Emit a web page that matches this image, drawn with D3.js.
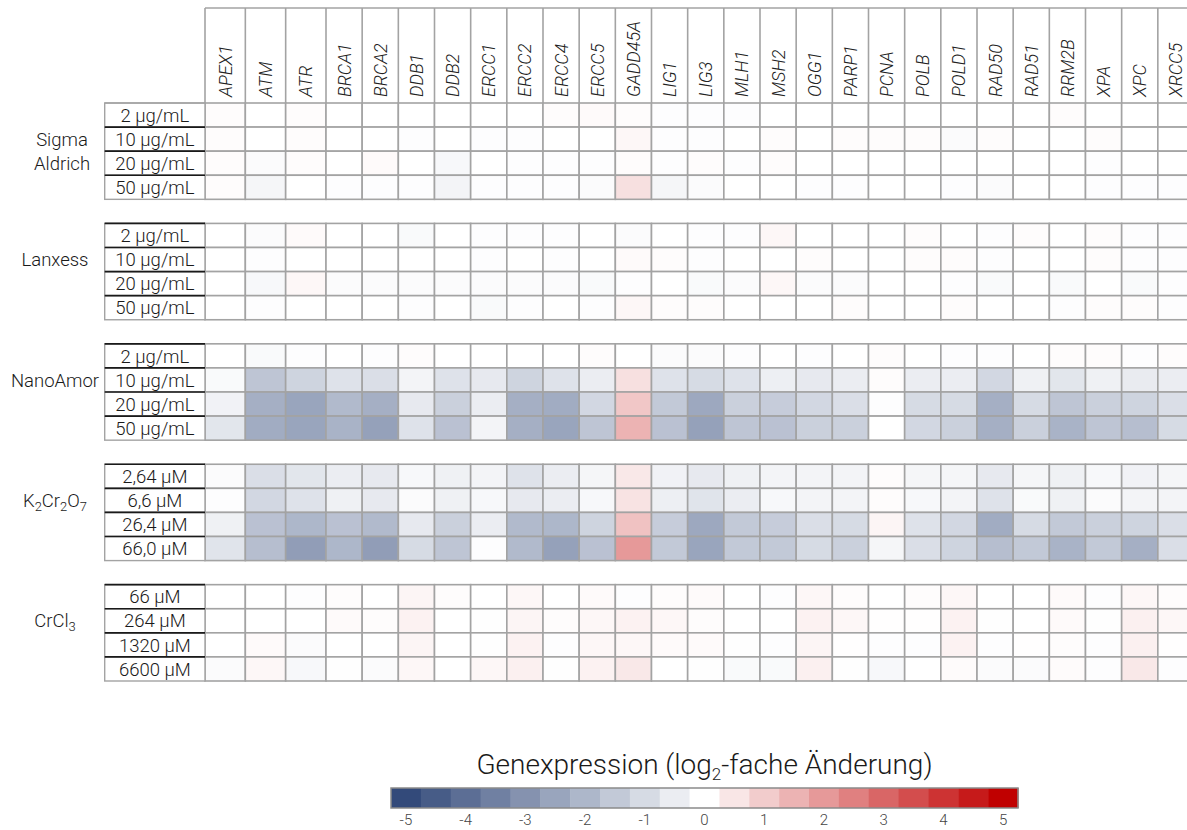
<!DOCTYPE html>
<html>
<head>
<meta charset="utf-8">
<script src="https://cdn.jsdelivr.net/npm/d3@7"></script>
<style>
  html, body { margin: 0; padding: 0; background: #fff; }
  svg { display: block; font-family: Roboto, "Noto Sans", sans-serif; font-weight: 300; }
</style>
</head>
<body>
<svg id="chart" width="1187" height="830"></svg>
<script>
// Genes on the column axis
const genes = ["APEX1","ATM","ATR","BRCA1","BRCA2","DDB1","DDB2","ERCC1","ERCC2","ERCC4","ERCC5",
  "GADD45A","LIG1","LIG3","MLH1","MSH2","OGG1","PARP1","PCNA","POLB","POLD1","RAD50","RAD51",
  "RRM2B","XPA","XPC","XRCC5"];

// Treatments (row groups) and their concentrations
const groupNames = ["Sigma Aldrich", "Lanxess", "NanoAmor", "K2Cr2O7", "CrCl3"];
const sigmaDoses = ["2 µg/mL", "10 µg/mL", "20 µg/mL", "50 µg/mL"];
const lanxessDoses = ["2 µg/mL", "10 µg/mL", "20 µg/mL", "50 µg/mL"];
const nanoamorDoses = ["2 µg/mL", "10 µg/mL", "20 µg/mL", "50 µg/mL"];
const dichromateDoses = ["2,64 µM", "6,6 µM", "26,4 µM", "66,0 µM"];
const chlorideDoses = ["66 µM", "264 µM", "1320 µM", "6600 µM"];

// log2 fold change, one row per concentration, columns in gene order
const sigmaValues = [
  [0.05,0,0.05,0,0,0,0,0,0,0.05,0.1,0.05,-0.05,-0.05,-0.05,0,0,0,0,0,0,0,0,0.05,0,0,0],
  [0.05,0,0.05,0,0,-0.05,0,-0.05,-0.05,0,0,0.15,-0.05,-0.05,0,0.05,0,0.05,0.05,0.05,-0.1,0.05,0,0,0.05,0,0],
  [0.05,-0.1,0.05,0,0.1,0,-0.2,0,-0.05,-0.05,-0.05,0.05,-0.05,0.05,-0.05,0.05,0,0,0,0,0,0,0,0,-0.05,0,0],
  [0.05,-0.25,0,-0.05,-0.05,-0.05,-0.3,-0.05,-0.05,-0.05,-0.1,0.6,-0.25,-0.1,0,0,-0.05,-0.05,0,0,-0.05,-0.1,0,0,-0.05,-0.05,-0.05]
];
const lanxessValues = [
  [0,-0.1,0.1,0,0,-0.15,0,-0.05,-0.05,-0.05,0,-0.1,0,-0.05,-0.05,0.15,0,0,0,0.05,0,-0.05,0.05,0,0.05,-0.05,-0.05],
  [0,-0.05,0,0,0,0,0,-0.05,0,-0.05,0,0.1,0.05,-0.05,0,0,0.05,0,0,0.05,0.05,-0.05,0,0,0.05,-0.05,-0.05],
  [0,-0.2,0.15,-0.1,-0.1,-0.1,-0.1,-0.1,-0.1,-0.1,-0.15,-0.05,0,-0.15,-0.1,0.15,-0.1,-0.1,0,0,-0.05,-0.15,0,-0.15,0,-0.15,-0.05],
  [0,-0.05,0,0,0,-0.05,0,-0.15,-0.05,0,-0.05,0.15,0.05,0.05,0,0,0,0.05,0,0,0.05,0,0,-0.05,0.05,0.05,-0.05]
];
const nanoamorValues = [
  [0,-0.15,-0.05,0,-0.05,0.05,0,0,0,0,0.05,0,-0.1,-0.1,-0.05,0,-0.05,0,0.05,0,-0.05,-0.05,0,0.05,0.05,-0.05,0.05],
  [-0.15,-1.6,-1.2,-0.8,-0.9,-0.3,-0.8,-0.6,-1.2,-0.8,-0.5,0.6,-0.8,-1.0,-0.8,-0.45,-0.6,-0.5,0.05,-0.5,-0.5,-1.1,-0.4,-0.7,-0.4,-0.55,-0.5],
  [-0.35,-2.2,-2.5,-1.9,-2.2,-0.6,-1.3,-0.5,-2.2,-2.3,-1.1,1.1,-1.5,-2.4,-1.3,-1.4,-1.1,-0.9,-0.05,-1.0,-1.0,-2.2,-1.0,-1.6,-1.3,-1.2,-0.9],
  [-0.7,-2.3,-2.5,-2.1,-2.6,-0.8,-1.7,-0.3,-2.2,-2.5,-1.6,1.5,-1.7,-2.6,-1.6,-1.7,-1.3,-1.3,0,-1.1,-1.3,-2.2,-1.3,-2.1,-1.6,-1.8,-1.0]
];
const dichromateValues = [
  [-0.1,-0.9,-0.7,-0.5,-0.6,-0.2,-0.4,-0.3,-0.8,-0.5,-0.25,0.45,-0.35,-0.6,-0.4,-0.3,-0.3,-0.3,0.05,-0.25,-0.25,-0.6,-0.25,-0.4,-0.2,-0.35,-0.25],
  [-0.05,-1.1,-0.8,-0.4,-0.6,-0.1,-0.4,-0.2,-0.6,-0.5,-0.2,0.55,-0.45,-0.75,-0.5,-0.2,-0.3,-0.3,0.05,-0.2,-0.3,-0.8,-0.15,-0.4,-0.1,-0.3,-0.3],
  [-0.4,-1.7,-2.0,-1.7,-1.9,-0.6,-1.3,-0.5,-1.9,-2.0,-1.2,1.2,-1.4,-2.4,-1.5,-1.4,-0.9,-1.0,0.2,-0.8,-1.1,-2.3,-1.0,-1.5,-1.3,-1.2,-0.9],
  [-0.75,-1.8,-2.7,-2.0,-2.7,-1.0,-1.6,-0.05,-1.9,-2.6,-1.7,2.0,-1.5,-2.5,-1.5,-1.5,-1.0,-1.3,-0.25,-0.9,-1.2,-1.8,-1.5,-2.1,-1.5,-2.2,-0.9]
];
const chlorideValues = [
  [0,0,-0.05,0.05,0,0.2,0.05,0,0.15,0,0.1,-0.05,0.05,0.1,0,-0.05,0.15,0.05,0,0.05,0.15,0,0,0.1,-0.05,0.15,0.05],
  [0,0,0,0.1,0.05,0.25,0,-0.02,0.2,0.05,0.15,0.25,0.15,0.05,0,0,0.25,0.15,0.02,0.02,0.25,-0.02,0,0.1,-0.02,0.3,0.15],
  [0,0.1,-0.1,0,0,0.2,0,-0.02,0.25,-0.05,0.15,0.15,0.1,0.1,-0.02,-0.05,0.2,0.02,-0.05,-0.05,0.25,-0.05,0.02,0.05,-0.05,0.3,0.02],
  [-0.1,0.15,-0.2,-0.02,-0.1,0.15,0,0.15,0.3,-0.02,0.25,0.45,0,-0.02,-0.15,-0.15,0.3,-0.02,-0.2,0,0.08,-0.1,-0.1,0.08,-0.05,0.45,-0.05]
];

// Colour bar ticks
const legendTicks = [-5,-4,-3,-2,-1,0,1,2,3,4,5];

const groups = [
  { name: groupNames[0], doses: sigmaDoses, values: sigmaValues },
  { name: groupNames[1], doses: lanxessDoses, values: lanxessValues },
  { name: groupNames[2], doses: nanoamorDoses, values: nanoamorValues },
  { name: groupNames[3], doses: dichromateDoses, values: dichromateValues },
  { name: groupNames[4], doses: chlorideDoses, values: chlorideValues }
];

const svg = d3.select("#chart");
const gridColor = "#a3a3a3";
const labelSize = 18.5;

// Columns: first three gene columns are a bit wider than the rest
const x = d3.scaleLinear().domain([0, 3, genes.length]).range([205, 326, 1194]);
const labelLeft = 104.7, labelRight = x(0);

// Row groups and rows within a group
const yGroup = d3.scaleBand().domain(groupNames).range([103, 681]).paddingInner(0.2);
const yRow = d3.scaleBand().domain(d3.range(4)).range([0, yGroup.bandwidth()]);

const color = d3.scaleLinear().domain([-5, 0, 5]).range(["#334a7a", "#ffffff", "#c00000"]).clamp(true);

// Header: gene names, rotated
const headerTop = 8;
const header = svg.append("g");
header.append("line")
  .attr("x1", x(0)).attr("x2", x(genes.length)).attr("y1", headerTop).attr("y2", headerTop)
  .attr("stroke", gridColor).attr("stroke-width", 1.6);
header.selectAll("line.v").data(d3.range(genes.length + 1)).join("line")
  .attr("class", "v")
  .attr("x1", d => x(d)).attr("x2", d => x(d))
  .attr("y1", headerTop).attr("y2", yGroup(groupNames[0]))
  .attr("stroke", gridColor).attr("stroke-width", 1.6);
header.selectAll("text").data(genes).join("text")
  .attr("transform", (d, i) => `translate(${(x(i) + x(i + 1)) / 2 + 6.5},${yGroup(groupNames[0]) - 6}) rotate(-90)`)
  .attr("font-size", 18).attr("font-style", "italic").attr("fill", "#222")
  .text(d => d);

// Writes a label, turning digits in chemical formulas into subscripts
function formulaText(sel, label) {
  const parts = label.match(/[A-Za-z]+|\d+/g);
  parts.forEach(p => {
    const t = sel.append("tspan").text(p);
    if (/^\d+$/.test(p)) t.attr("font-size", "0.7em").attr("dy", 4);
    else if (sel.selectAll("tspan").size() > 1) t.attr("dy", -4);
  });
}

groups.forEach(grp => {
  const g = svg.append("g").attr("transform", `translate(0,${yGroup(grp.name)})`);

  // heat cells
  grp.values.forEach((row, r) => {
    g.selectAll(null).data(row).join("rect")
      .attr("x", (d, i) => x(i)).attr("width", (d, i) => x(i + 1) - x(i))
      .attr("y", yRow(r)).attr("height", yRow.bandwidth())
      .attr("fill", d => color(d))
      .attr("stroke", gridColor).attr("stroke-width", 1.6);
  });

  // concentration labels
  g.selectAll("rect.lab").data(grp.doses).join("rect")
    .attr("class", "lab")
    .attr("x", labelLeft).attr("width", labelRight - labelLeft)
    .attr("y", (d, i) => yRow(i)).attr("height", yRow.bandwidth())
    .attr("fill", "#fff").attr("stroke", gridColor).attr("stroke-width", 1.4);
  g.selectAll("line.sep").data(grp.doses).join("line")
    .attr("class", "sep")
    .attr("x1", labelLeft).attr("x2", labelRight)
    .attr("y1", (d, i) => yRow(i)).attr("y2", (d, i) => yRow(i))
    .attr("stroke", (d, i) => (grp.name === groupNames[0] && i === 0) ? gridColor : "#1a1a1a")
    .attr("stroke-width", 1.6);
  g.selectAll("text.dose").data(grp.doses).join("text")
    .attr("class", "dose")
    .attr("x", (labelLeft + labelRight) / 2)
    .attr("y", (d, i) => yRow(i) + yRow.bandwidth() / 2)
    .attr("dy", "0.36em").attr("text-anchor", "middle")
    .attr("font-size", labelSize).attr("fill", "#1a1a1a")
    .text(d => d);

  // group label
  const lines = grp.name === groupNames[0] ? grp.name.split(" ") : [grp.name];
  const gx = 55;
  if (lines.length > 1) {
    lines.forEach((ln, k) => {
      g.append("text").attr("x", gx + 7).attr("y", yRow(k + 1) + yRow.bandwidth() / 2)
        .attr("dy", "0.36em").attr("text-anchor", "middle")
        .attr("font-size", labelSize).attr("fill", "#1a1a1a").text(ln);
    });
  } else {
    const t = g.append("text").attr("x", gx).attr("y", yRow(1) + yRow.bandwidth() / 2)
      .attr("dy", "0.36em").attr("text-anchor", "middle")
      .attr("font-size", labelSize).attr("fill", "#1a1a1a");
    formulaText(t, grp.name);
  }
});

// Colour legend
const legendValues = d3.range(-5, 5.01, 0.5);
const lx = d3.scaleLinear().domain([-5.25, 5.25]).range([391, 1018]);
const legendY = 788, legendH = 20;
const legend = svg.append("g");
legend.selectAll("rect").data(legendValues).join("rect")
  .attr("x", d => lx(d - 0.25)).attr("width", d => lx(d + 0.25) - lx(d - 0.25) + 0.5)
  .attr("y", legendY).attr("height", legendH)
  .attr("fill", d => color(d));
legend.append("rect")
  .attr("x", lx(-5.25)).attr("width", lx(5.25) - lx(-5.25))
  .attr("y", legendY).attr("height", legendH)
  .attr("fill", "none").attr("stroke", "#8a8a8a").attr("stroke-width", 1.5);
legend.selectAll("text.tick").data(legendTicks).join("text")
  .attr("class", "tick")
  .attr("x", d => lx(d)).attr("y", legendY + legendH + 17)
  .attr("text-anchor", "middle").attr("font-size", 15).attr("fill", "#444")
  .text(d => d);

const title = legend.append("text")
  .attr("x", (lx(-5.25) + lx(5.25)) / 2).attr("y", 774)
  .attr("text-anchor", "middle").attr("font-size", 28).attr("fill", "#1a1a1a");
title.append("tspan").text("Genexpression (log");
title.append("tspan").text("2").attr("font-size", 17).attr("dy", 6);
title.append("tspan").text("-fache Änderung)").attr("dy", -6);
</script>
</body>
</html>
